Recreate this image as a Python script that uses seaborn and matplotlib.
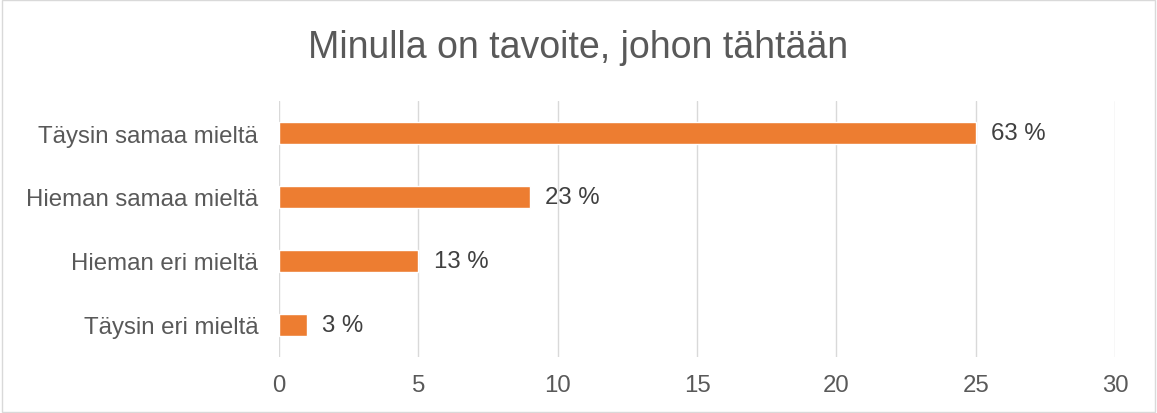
import matplotlib
matplotlib.use("Agg")
import matplotlib.pyplot as plt
import seaborn as sns
import pandas as pd

categories = ["Täysin samaa mieltä", "Hieman samaa mieltä", "Hieman eri mieltä", "Täysin eri mieltä"]
values = [25, 9, 5, 1]
labels = ["63 %", "23 %", "13 %", "3 %"]
xticks = [0, 5, 10, 15, 20, 25, 30]
title = "Minulla on tavoite, johon tähtään"

sns.set_theme(style="white")
plt.rcParams['font.family'] = ['Liberation Sans', 'DejaVu Sans']

df = pd.DataFrame({"cat": categories, "val": values})

fig = plt.figure(figsize=(11.57, 4.14), dpi=100)
ax = fig.add_axes([279/1157, 1-358/414, (1115-279)/1157, 256/414])

sns.barplot(data=df, y="cat", x="val", color="#ED7D31", width=0.35, ax=ax, saturation=1, zorder=3)

ax.set_xlim(0, 30)
ax.set_xticks(xticks)
ax.set_xticklabels([str(t) for t in xticks], fontsize=17.3, color="#595959")
ax.tick_params(axis='y', labelsize=17.3, labelcolor="#595959", length=0, pad=15)
ax.tick_params(axis='x', length=0, pad=12)
ax.set_xlabel("")
ax.set_ylabel("")
for s in ax.spines.values():
    s.set_visible(False)
ax.grid(axis='x', color="#d9d9d9", linewidth=1, zorder=0)
ax.set_axisbelow(True)

for i, (v, lab) in enumerate(zip(values, labels)):
    ax.text(v + 0.55, i, lab, va="center", ha="left", fontsize=17.3, color="#404040")

fig.text(0.5, 1-48/414, title, ha="center", va="center", fontsize=27, color="#595959")

border = plt.Rectangle((0.002, 0.003), 0.996, 0.994, transform=fig.transFigure,
                       fill=False, edgecolor="#d9d9d9", linewidth=1)
fig.patches.append(border)

fig.savefig("out.png", dpi=100)
